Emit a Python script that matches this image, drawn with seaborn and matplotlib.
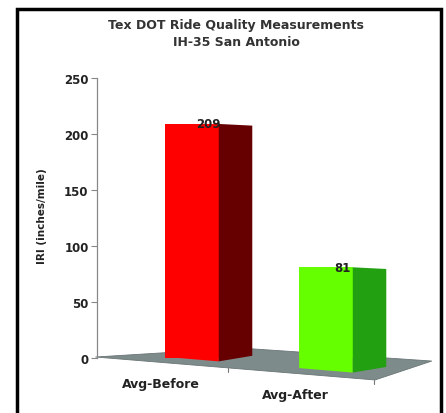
import numpy as np
import pandas as pd
import seaborn as sns
from matplotlib import pyplot as plt
import matplotlib.patches as patches

sns.set_style("white")
plt.rcParams['font.family'] = ['DejaVu Sans']
plt.rcParams['font.weight'] = 'bold'

# data
categories = ['Avg-Before', 'Avg-After']
iri_values = [209, 81]
front_colors = ['#ff0000', '#66ff00']
side_colors = ['#660000', '#22a012']

df = pd.DataFrame({'cat': categories, 'iri': iri_values})

# 3D look: sloping floor, bar depth
BAR_W = 0.4
DEPTH = 0.25
def base(x):
    # bottom of the bars drifts down to the right (perspective)
    return -1.0 - 10.0 * x

fig = plt.figure(figsize=(4.46, 4.14), dpi=100)
ax = fig.add_axes([60/446, 14/414, 380/446, 340/414])

# floor
floor = patches.Polygon([(-0.72, 0.9), (0.36, 8.9), (1.79, -2.7), (1.366, -19.6)],
                        closed=True, facecolor='#7e8b8b', edgecolor='#6a7575', lw=0.6, zorder=1)
ax.add_patch(floor)
# little separators on the floor front edge
for xs in [0.27, 1.36]:
    yf = 0.9 + (xs + 0.72) * (-20.5 / 2.086)
    ax.plot([xs, xs], [yf, yf - 4], color='#777777', lw=0.8, zorder=1)

sns.barplot(data=df, x='cat', y='iri', hue='cat', palette=front_colors, width=BAR_W,
            saturation=1, legend=False, ax=ax, zorder=3, edgecolor='none')

for i, v in enumerate(iri_values):
    xl, xr = i - BAR_W / 2, i + BAR_W / 2
    # extend the front face down to the floor
    ax.add_patch(patches.Polygon([(xl, 0), (xr, 0), (xr, base(xr)), (xl, base(xl))],
                                 closed=True, facecolor=front_colors[i], edgecolor='none', zorder=3))
    # side face
    ax.add_patch(patches.Polygon([(xr, base(xr)), (xr, v), (xr + DEPTH, v - 1.5),
                                  (xr + DEPTH, base(xr) + 5)],
                                 closed=True, facecolor=side_colors[i], edgecolor='none', zorder=3))
    ax.text(i + 0.12, v, str(v), ha='center', va='center', fontsize=8.5,
            fontweight='bold', color='#222222', zorder=5)
    ax.text(i - 0.23, base(i) - 22, categories[i], ha='center', va='center', fontsize=9,
            fontweight='bold', color='#222222')

ax.set_xlim(-0.985, 1.851)
ax.set_ylim(-36.6, 267)
ax.set_xticks([])
ax.set_xlabel('')
ax.set_yticks([0, 50, 100, 150, 200, 250])
ax.tick_params(axis='y', direction='out', length=4, width=0.8, color='#888888',
               labelsize=8.5, labelcolor='#222222', pad=2, left=True)
for lab in ax.get_yticklabels():
    lab.set_fontweight('bold')
ax.set_ylabel('IRI (inches/mile)', fontsize=7.5, fontweight='bold', color='#222222')
ax.yaxis.set_label_coords(-0.034, 0.54)
for s in ['top', 'right', 'bottom']:
    ax.spines[s].set_visible(False)
ax.spines['left'].set_position(('data', -0.709))
ax.spines['left'].set_bounds(0, 250)
ax.spines['left'].set_color('#888888')
ax.spines['left'].set_linewidth(0.9)
ax.patch.set_alpha(0)

fig.text(236/446, 1 - 25/414, 'Tex DOT Ride Quality Measurements', ha='center', va='center',
         fontsize=9, fontweight='bold', color='#333333')
fig.text(236/446, 1 - 42/414, 'IH-35 San Antonio', ha='center', va='center',
         fontsize=9, fontweight='bold', color='#333333')

# frame
fig.add_artist(patches.Rectangle((17/446, -0.05), (441 - 17)/446, 1.05 - 10/414, fill=False,
                                 edgecolor='black', lw=2.5, transform=fig.transFigure))

fig.savefig('out.png', dpi=100)
